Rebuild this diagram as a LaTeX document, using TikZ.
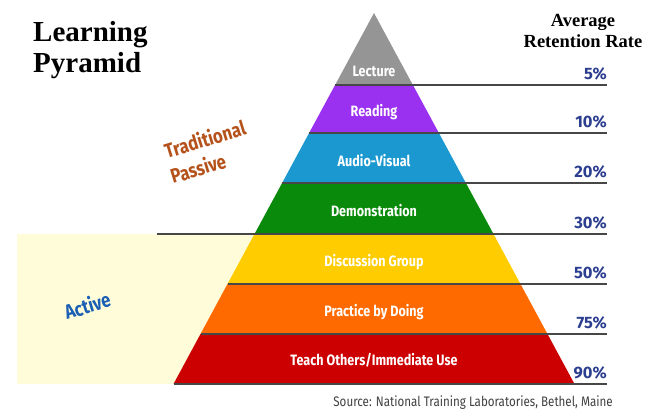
\documentclass[tikz,border=0pt]{standalone}
\usepackage{fontspec}
\setmainfont{Liberation Serif}
\newfontfamily\labelfont[FakeStretch=0.84, BoldFont={Fira Sans Bold}]{Fira Sans}
\newfontfamily\ratefont{Fira Sans}
\usetikzlibrary{positioning, calc}

\definecolor{lectureGray}{HTML}{959595}
\definecolor{readingPurple}{HTML}{9A30F0}
\definecolor{audioBlue}{HTML}{1B98CF}
\definecolor{demoGreen}{HTML}{0A8A0A}
\definecolor{discYellow}{HTML}{FFCC00}
\definecolor{practOrange}{HTML}{FF6A00}
\definecolor{teachRed}{HTML}{CC0000}
\definecolor{rateBlue}{HTML}{2C3E8F}
\definecolor{passiveBrown}{HTML}{B5521B}
\definecolor{activeBlue}{HTML}{1B5FB5}
\definecolor{activeBg}{HTML}{FFFDD9}

\begin{document}
\begin{tikzpicture}[
  x=1pt, y=-1pt,
  font=\labelfont
]
% -------------------- Styles --------------------
\tikzset{
  layerText/.style={
    text=white, inner sep=0pt,
    font=\labelfont\bfseries\fontsize{15}{17}\selectfont
  },
  rate/.style={
    anchor=base east, inner sep=0pt, text=rateBlue,
    font=\ratefont\bfseries\fontsize{16.5}{18}\selectfont
  },
  rateLine/.style={draw=black!72, line width=1.3pt},
  sideText/.style={
    rotate=17, anchor=base west, inner sep=0pt,
    font=\labelfont\bfseries\fontsize{20}{21}\selectfont
  }
}
\useasboundingbox (0,0) rectangle (662,410);

% -------------------- Active background --------------------
\fill[activeBg] (17,234) rectangle (255,384);

% -------------------- Pyramid layers --------------------
\fill[lectureGray]   (374,13) -- (412.9,85) -- (335.1,85) -- cycle;
\fill[readingPurple] (335.1,85) -- (412.9,85) -- (438.9,133) -- (309.1,133) -- cycle;
\fill[audioBlue]     (309.1,133) -- (438.9,133) -- (465.9,183) -- (282.1,183) -- cycle;
\fill[demoGreen]     (282.1,183) -- (465.9,183) -- (493.5,234) -- (254.5,234) -- cycle;
\fill[discYellow]    (254.5,234) -- (493.5,234) -- (520.5,284) -- (227.5,284) -- cycle;
\fill[practOrange]   (227.5,284) -- (520.5,284) -- (547.5,334) -- (200.5,334) -- cycle;
\fill[teachRed]      (200.5,334) -- (547.5,334) -- (574.5,384) -- (173.5,384) -- cycle;

% -------------------- Rate lines --------------------
\draw[rateLine] (335.1,85) -- (607,85);
\draw[rateLine] (309.1,133) -- (607,133);
\draw[rateLine] (282.1,183) -- (607,183);
\draw[rateLine] (157,234) -- (607,234);
\draw[rateLine] (227.5,284) -- (607,284);
\draw[rateLine] (200.5,334) -- (607,334);
\draw[rateLine] (173.5,384) -- (607,384);

% -------------------- Layer labels --------------------
\node[layerText] (lecture)  at (374,71)  {Lecture};
\node[layerText] (reading)  at (374,112) {Reading};
\node[layerText] (audio)    at (374,161) {Audio-Visual};
\node[layerText] (demo)     at (374,211) {Demonstration};
\node[layerText] (disc)     at (374,262) {Discussion Group};
\node[layerText] (practice) at (374,312) {Practice by Doing};
\node[layerText] (teach)    at (374,360) {Teach Others/Immediate Use};

% -------------------- Retention rates --------------------
\node[rate] (r5)  at (607,79)  {5\%};
\node[rate] (r10) at (607,127) {10\%};
\node[rate] (r20) at (607,177) {20\%};
\node[rate] (r30) at (607,228) {30\%};
\node[rate] (r50) at (607,278) {50\%};
\node[rate] (r75) at (607,328) {75\%};
\node[rate] (r90) at (607,378) {90\%};

% -------------------- Headings --------------------
\node[anchor=north west, align=left, inner sep=0pt,
      font=\bfseries\fontsize{29}{31}\selectfont] (title) at (33,21) {Learning\\Pyramid};

\node[anchor=north, align=center, inner sep=0pt,
      font=\bfseries\fontsize{18.5}{21}\selectfont] (avg) at (583,14) {Average\\Retention Rate};

% -------------------- Side labels --------------------
\node[sideText, text=passiveBrown] (traditional) at (167,159) {Traditional};
\node[sideText, text=passiveBrown] (passive) at (173,184) {Passive};
\node[sideText, text=activeBlue] (active) at (67,320) {Active};

% Source footer
\node[anchor=base east, inner sep=0pt, text=black!75,
      font=\labelfont\fontsize{13.8}{15}\selectfont] (source) at (613,406)
  {Source: National Training Laboratories, Bethel, Maine};

\end{tikzpicture}
\end{document}
